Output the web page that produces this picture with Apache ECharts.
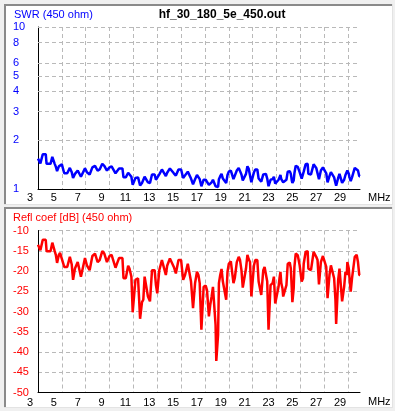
<!DOCTYPE html>
<html><head><meta charset="utf-8">
<script src="https://cdn.jsdelivr.net/npm/echarts@6/dist/echarts.min.js"></script>
<style>html,body{margin:0;padding:0;background:#f0f0f0;overflow:hidden}#c{width:395px;height:411px}</style>
</head><body><div id="c"></div>
<script>
const fileTitle = 'hf_30_180_5e_450.out';
const swrTitle = 'SWR (450 ohm)';
const reflTitle = 'Refl coef [dB] (450 ohm)';
const xUnit = 'MHz';
const swrTickValues = [1, 2, 3, 4, 5, 6, 8, 10];

const freqMHz = [3.0,3.2,3.4,3.65,3.72,4.05,4.2,4.4,4.5,4.6,
4.75,4.85,5.0,5.2,5.45,5.67,5.83,5.94,6.1,6.33,
6.45,6.6,6.72,6.94,7.1,7.22,7.33,7.56,7.78,8.0,
8.17,8.39,8.56,8.78,9.0,9.17,9.5,9.67,9.8,10.08,
10.17,10.36,10.56,10.67,10.83,10.94,11.17,11.39,11.56,11.72,
11.83,11.94,12.1,12.22,12.39,12.56,12.78,12.89,13.0,13.17,
13.39,13.5,13.72,13.83,14.06,14.19,14.39,14.56,14.78,15.0,
15.17,15.33,15.56,15.67,15.83,16.0,16.17,16.33,16.45,16.56,
16.7,16.8,16.89,17.06,17.17,17.33,17.44,17.56,17.67,17.83,
17.89,17.95,18.05,18.1,18.17,18.28,18.39,18.5,18.78,18.89,
19.0,19.17,19.28,19.39,19.5,19.67,19.83,19.94,20.06,20.17,
20.28,20.44,20.56,20.67,20.78,20.89,21.0,21.11,21.22,21.39,
21.5,21.72,21.89,22.0,22.11,22.22,22.33,22.44,22.5,22.67,
22.78,22.89,23.0,23.17,23.25,23.33,23.4,23.5,23.56,23.72,
23.83,23.94,24.11,24.2,24.28,24.33,24.44,24.5,24.61,24.78,
24.94,25.11,25.22,25.28,25.44,25.61,25.67,25.89,26.0,26.11,
26.22,26.33,26.44,26.56,26.72,26.89,27.0,27.17,27.28,27.39,
27.44,27.56,27.72,27.83,27.94,28.0,28.11,28.17,28.28,28.39,
28.5,28.61,28.67,28.78,28.89,28.94,29.06,29.11,29.22,29.33,
29.44,29.56,29.72,29.83,29.94,30.0];

const swrValues = [1.54,1.44,1.64,1.64,1.43,1.43,1.58,1.43,1.37,1.29,
1.38,1.40,1.42,1.25,1.25,1.35,1.27,1.17,1.24,1.30,
1.30,1.19,1.20,1.34,1.27,1.27,1.23,1.36,1.39,1.30,
1.32,1.43,1.39,1.30,1.36,1.38,1.25,1.30,1.34,1.34,
1.18,1.18,1.26,1.24,1.19,1.06,1.17,1.18,1.05,1.09,
1.09,1.19,1.18,1.10,1.09,1.23,1.23,1.14,1.11,1.23,
1.32,1.33,1.20,1.26,1.34,1.35,1.25,1.21,1.32,1.32,
1.17,1.20,1.28,1.27,1.16,1.07,1.15,1.22,1.20,1.15,
1.04,1.04,1.14,1.14,1.12,1.06,1.08,1.10,1.14,1.14,
1.04,1.02,1.02,1.03,1.15,1.20,1.24,1.16,1.09,1.22,
1.28,1.30,1.30,1.15,1.18,1.30,1.35,1.32,1.23,1.13,
1.13,1.24,1.38,1.33,1.30,1.10,1.11,1.27,1.32,1.32,
1.16,1.11,1.23,1.25,1.24,1.16,1.04,1.04,1.14,1.15,
1.19,1.08,1.08,1.14,1.18,1.22,1.15,1.13,1.10,1.10,
1.14,1.28,1.29,1.24,1.13,1.09,1.13,1.25,1.39,1.37,
1.27,1.16,1.18,1.28,1.42,1.43,1.24,1.23,1.23,1.42,
1.42,1.35,1.32,1.15,1.30,1.36,1.37,1.25,1.10,1.10,
1.20,1.27,1.25,1.18,1.09,1.05,1.05,1.17,1.24,1.23,
1.09,1.09,1.14,1.22,1.20,1.30,1.24,1.19,1.12,1.18,
1.18,1.35,1.38,1.30,1.20,1.20];

const reflCoefDb = [-13.5,-14.9,-12.3,-12.3,-15.1,-15.1,-13.0,-15.1,-16.1,-18.0,
-16.0,-15.5,-15.3,-19.0,-19.0,-16.5,-18.4,-22.2,-19.4,-17.8,
-17.6,-21.4,-21.0,-16.8,-18.6,-18.6,-19.8,-16.3,-15.7,-17.8,
-17.3,-15.1,-15.7,-17.8,-16.3,-16.0,-19.2,-17.8,-16.8,-16.8,
-21.8,-21.8,-18.7,-19.4,-21.4,-30.2,-22.2,-21.8,-31.8,-27.7,
-27.1,-21.4,-21.6,-26.3,-27.5,-19.8,-19.8,-23.5,-25.5,-19.8,
-17.3,-17.1,-21.0,-18.7,-16.9,-16.5,-19.0,-20.6,-17.3,-17.3,
-22.2,-21.0,-18.2,-18.6,-22.6,-29.2,-23.0,-20.2,-21.0,-23.0,
-34.5,-34.5,-23.9,-23.6,-24.7,-31.2,-28.4,-26.3,-23.9,-23.9,
-33.3,-42.2,-42.2,-35.7,-23.0,-21.0,-19.5,-22.6,-27.1,-20.2,
-18.2,-17.6,-17.8,-23.0,-21.8,-17.8,-16.5,-17.3,-19.8,-24.1,
-24.0,-19.4,-16.0,-17.1,-17.8,-26.3,-25.9,-18.6,-17.3,-17.3,
-22.6,-25.9,-19.8,-19.0,-19.4,-22.6,-34.5,-34.1,-23.5,-23.0,
-21.4,-28.0,-28.0,-23.9,-21.8,-20.2,-23.0,-24.3,-26.3,-26.5,
-23.5,-18.2,-17.9,-19.4,-24.3,-27.7,-24.3,-19.0,-15.7,-16.1,
-18.6,-22.6,-21.8,-18.2,-15.3,-15.1,-19.4,-19.8,-19.8,-15.3,
-15.3,-16.5,-17.3,-23.3,-17.8,-16.3,-16.1,-19.0,-26.7,-26.7,
-21.0,-18.6,-19.0,-21.8,-27.1,-33.1,-32.8,-22.2,-19.4,-19.8,
-27.5,-27.5,-23.9,-20.2,-21.0,-17.8,-19.4,-21.4,-25.1,-21.8,
-21.8,-16.5,-16.0,-17.8,-21.0,-21.0];

const FONT = '"Liberation Sans", Arial, sans-serif';
const GRID_STYLE = { color: '#b9b9b9', type: [4, 3], width: 1 };
const gridLine = { show: true, showMinLine: false, showMaxLine: false, lineStyle: GRID_STYLE };

function xAxisFor(idx, margin) {
  return {
    type: 'value', gridIndex: idx, min: 3, max: 30, interval: 2,
    axisLine: { show: true, onZero: false, lineStyle: { color: '#000', width: 1 } },
    axisTick: { show: false },
    axisLabel: { color: '#000', fontSize: 11, fontFamily: FONT, margin: margin,
      padding: [0, 16, 0, 0], showMaxLabel: false, showMinLabel: true },
    splitLine: gridLine
  };
}

const chart = echarts.init(document.getElementById('c'), null, { renderer: 'canvas' });
chart.setOption({
  animation: false,
  backgroundColor: '#f0f0f0',
  grid: [
    { left: 38, right: 35, top: 27, height: 162 },
    { left: 38, right: 35, top: 230.5, height: 162 }
  ],
  xAxis: [xAxisFor(0, 3), xAxisFor(1, 5)],
  yAxis: [
    {
      type: 'log', logBase: 10, gridIndex: 0, min: 1, max: 10,
      axisLine: { show: true, onZero: false, lineStyle: { color: '#000', width: 1 } },
      axisTick: { show: false, customValues: swrTickValues },
      axisLabel: { customValues: swrTickValues, color: '#0000ff', fontSize: 11, fontFamily: FONT,
        align: 'left', margin: 25, padding: [0, 0, 3, 0] },
      splitLine: { show: false }
    },
    {
      type: 'value', gridIndex: 1, min: -50, max: -10, interval: 5,
      axisLine: { show: true, onZero: false, lineStyle: { color: '#000', width: 1 } },
      axisTick: { show: false },
      axisLabel: { color: '#ff0000', fontSize: 11, fontFamily: FONT,
        align: 'left', margin: 25, padding: [0, 0, 3, 0] },
      splitLine: { show: true, showMinLine: false, lineStyle: GRID_STYLE }
    }
  ],
  series: [
    { type: 'line', xAxisIndex: 0, yAxisIndex: 0, showSymbol: false, symbol: 'none',
      data: freqMHz.map((f, i) => [f, swrValues[i]]),
      lineStyle: { color: '#0000ff', width: 2.5 }, itemStyle: { color: '#0000ff' },
      markLine: {
        silent: true, symbol: ['none', 'none'], label: { show: false },
        lineStyle: GRID_STYLE, emphasis: { disabled: true },
        data: swrTickValues.filter(v => v > 1).map(v => ({ yAxis: v }))
      } },
    { type: 'line', xAxisIndex: 1, yAxisIndex: 1, showSymbol: false, symbol: 'none',
      data: freqMHz.map((f, i) => [f, reflCoefDb[i]]),
      lineStyle: { color: '#ff0000', width: 2.5 }, itemStyle: { color: '#ff0000' } }
  ],
  graphic: [
    { type: 'rect', z: -10, silent: true, shape: { x: 4, y: 4, width: 389, height: 201 }, style: { fill: '#e3e3e3' } },
    { type: 'rect', z: -10, silent: true, shape: { x: 4, y: 4, width: 388, height: 200 }, style: { fill: '#8a8a8a' } },
    { type: 'rect', z: -10, silent: true, shape: { x: 6, y: 6, width: 386, height: 198 }, style: { fill: '#ffffff' } },
    { type: 'rect', z: -10, silent: true, shape: { x: 4, y: 207, width: 389, height: 201 }, style: { fill: '#e3e3e3' } },
    { type: 'rect', z: -10, silent: true, shape: { x: 4, y: 207, width: 388, height: 200 }, style: { fill: '#8a8a8a' } },
    { type: 'rect', z: -10, silent: true, shape: { x: 6, y: 209, width: 386, height: 198 }, style: { fill: '#ffffff' } },
    { type: 'text', z: 10, silent: true, x: 14, y: 14.5,
      style: { text: swrTitle, fill: '#0000ff', font: '11px ' + FONT, textAlign: 'left', textVerticalAlign: 'middle', align: 'left', verticalAlign: 'middle' } },
    { type: 'text', z: 10, silent: true, x: 222, y: 14.5,
      style: { text: fileTitle, fill: '#000000', font: 'bold 12px ' + FONT, textAlign: 'center', textVerticalAlign: 'middle', align: 'center', verticalAlign: 'middle' } },
    { type: 'text', z: 10, silent: true, x: 13, y: 217.5,
      style: { text: reflTitle, fill: '#ff0000', font: '11px ' + FONT, textAlign: 'left', textVerticalAlign: 'middle', align: 'left', verticalAlign: 'middle' } },
    { type: 'text', z: 10, silent: true, x: 368, y: 197.5,
      style: { text: xUnit, fill: '#000000', font: '11px ' + FONT, textAlign: 'left', textVerticalAlign: 'middle', align: 'left', verticalAlign: 'middle' } },
    { type: 'text', z: 10, silent: true, x: 368, y: 401.5,
      style: { text: xUnit, fill: '#000000', font: '11px ' + FONT, textAlign: 'left', textVerticalAlign: 'middle', align: 'left', verticalAlign: 'middle' } }
  ]
});
</script>
</body></html>
